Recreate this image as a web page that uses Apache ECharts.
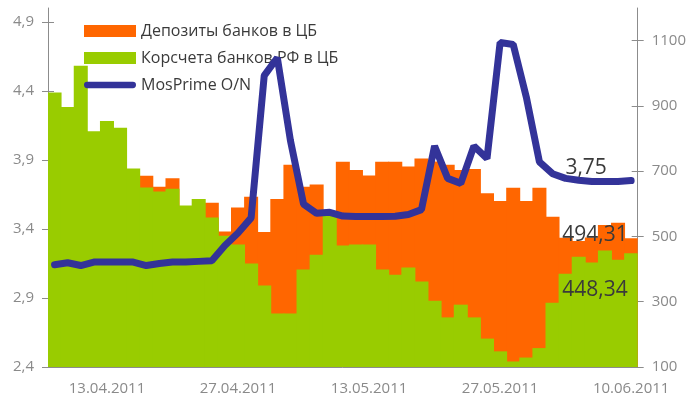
<!DOCTYPE html>
<html>
<head>
<meta charset="utf-8">
<script src="https://cdn.jsdelivr.net/npm/echarts@6/dist/echarts.min.js"></script>
<style>
  html, body { margin: 0; padding: 0; background: #fff; }
  #chart { width: 689px; height: 403px; }
</style>
</head>
<body>
<div id="chart"></div>
<script>
(function () {
    'use strict';

    var days = [
        '07.04.2011', '08.04.2011', '11.04.2011', '12.04.2011', '13.04.2011',
        '14.04.2011', '15.04.2011', '18.04.2011', '19.04.2011', '20.04.2011',
        '21.04.2011', '22.04.2011', '25.04.2011', '26.04.2011', '27.04.2011',
        '28.04.2011', '29.04.2011', '03.05.2011', '04.05.2011', '05.05.2011',
        '06.05.2011', '10.05.2011', '11.05.2011', '12.05.2011', '13.05.2011',
        '16.05.2011', '17.05.2011', '18.05.2011', '19.05.2011', '20.05.2011',
        '23.05.2011', '24.05.2011', '25.05.2011', '26.05.2011', '27.05.2011',
        '30.05.2011', '31.05.2011', '01.06.2011', '02.06.2011', '03.06.2011',
        '06.06.2011', '07.06.2011', '08.06.2011', '09.06.2011', '10.06.2011'
    ];

    // депозиты банков в ЦБ, млрд руб (правая шкала)
    var deposits = [
        600, 620, 640, 660, 650, 640, 680, 686, 652, 678,
        570, 590, 603, 515, 589, 622, 514, 615, 720, 652,
        659, 530, 729, 704, 687, 729, 729, 714, 739, 730,
        720, 704, 707, 632, 609, 649, 609, 649, 560, 496,
        486, 497, 535, 542, 494.31
    ];

    // корсчета банков РФ в ЦБ, млрд руб (правая шкала)
    var corrAccounts = [
        941, 897, 1023, 822, 854, 833, 708, 650, 638, 646,
        595, 615, 558, 502, 475, 417, 350, 264, 264, 399,
        444, 566, 472, 475, 475, 399, 383, 405, 362, 303,
        252, 291, 252, 187, 148, 117, 129, 158, 297, 386,
        438, 420, 457, 429, 448.34
    ];

    // MosPrime O/N, % (левая шкала)
    var mosprime = [
        3.14, 3.155, 3.135, 3.16, 3.16, 3.16, 3.16, 3.135, 3.15, 3.16,
        3.16, 3.165, 3.17, 3.28, 3.37, 3.48, 4.51, 4.64, 4.04, 3.58,
        3.513, 3.52, 3.493, 3.49, 3.49, 3.49, 3.492, 3.505, 3.54, 4.0,
        3.766, 3.73, 4.0, 3.91, 4.75, 4.736, 4.355, 3.886, 3.80, 3.766,
        3.753, 3.744, 3.743, 3.744, 3.75
    ];

    var leftTicks = [2.4, 2.9, 3.4, 3.9, 4.4, 4.9];
    var rightTicks = [100, 300, 500, 700, 900, 1100];

    var fontName = '"Open Sans", "Noto Sans", sans-serif';
    var axisGray = '#8c8c8c';
    var labelGray = '#8a8a8a';
    var darkText = '#3a3a3a';
    var orange = '#ff6600';
    var green = '#99cc00';
    var blue = '#333399';

    // толстая линия с круглыми концами для легенды
    var lineIcon = 'path://M3.5,0L54.5,0A3.5,3.5,0,0,1,54.5,7L3.5,7A3.5,3.5,0,0,1,3.5,0Z';

    function comma(v) {
        return String(v).replace('.', ',');
    }

    var last = days.length - 1;

    function withEndLabel(arr, offset) {
        return arr.map(function (v, i) {
            if (i !== last) return v;
            return {
                value: v,
                label: {
                    show: true,
                    position: 'top',
                    offset: offset,
                    formatter: comma(v),
                    color: darkText,
                    fontSize: 21,
                    fontFamily: fontName
                }
            };
        });
    }

    var chart = echarts.init(document.getElementById('chart'));

    var sideAxis = function (pos, min, max, ticks, withLabels) {
        return {
            type: 'value',
            position: pos,
            min: min,
            max: max,
            splitLine: { show: false },
            axisLine: { show: withLabels, lineStyle: { color: axisGray, width: 1 } },
            axisTick: {
                show: true,
                inside: !withLabels,
                length: 6,
                customValues: ticks,
                lineStyle: { color: axisGray }
            },
            axisLabel: {
                show: withLabels,
                customValues: ticks,
                margin: 14,
                color: labelGray,
                fontSize: 15,
                fontFamily: fontName,
                formatter: function (v) { return comma(v); }
            }
        };
    };

    chart.setOption({
        animation: false,
        backgroundColor: '#fff',
        grid: { left: 48, right: 50, top: 8, bottom: 36 },
        legend: {
            orient: 'vertical',
            left: 79,
            top: 18,
            itemWidth: 52,
            itemHeight: 12,
            itemGap: 11,
            textStyle: { color: darkText, fontSize: 16, fontFamily: fontName },
            data: [
                { name: 'Депозиты банков в ЦБ', icon: 'rect' },
                { name: 'Корсчета банков РФ в ЦБ', icon: 'rect' },
                { name: 'MosPrime O/N', icon: lineIcon }
            ]
        },
        xAxis: {
            type: 'category',
            data: days,
            boundaryGap: true,
            splitLine: { show: false },
            axisLine: { lineStyle: { color: axisGray } },
            axisTick: {
                length: 5,
                interval: function (i) { return i % 5 === 0; },
                lineStyle: { color: axisGray }
            },
            axisLabel: {
                interval: function (i) { return i % 10 === 4; },
                margin: 14,
                color: labelGray,
                fontSize: 15,
                fontFamily: fontName
            }
        },
        yAxis: [
            sideAxis('left', 2.4, 5.0, leftTicks, true),
            sideAxis('right', 100, 1200, rightTicks, true),
            sideAxis('left', 2.4, 5.0, leftTicks, false),
            sideAxis('right', 100, 1200, rightTicks, false)
        ],
        series: [
            {
                name: 'Депозиты банков в ЦБ',
                type: 'bar',
                yAxisIndex: 1,
                barGap: '-100%',
                barWidth: '107%',
                itemStyle: { color: orange },
                data: withEndLabel(deposits, [-36, 12])
            },
            {
                name: 'Корсчета банков РФ в ЦБ',
                type: 'bar',
                yAxisIndex: 1,
                barGap: '-100%',
                barWidth: '107%',
                itemStyle: { color: green },
                data: withEndLabel(corrAccounts, [-36, 52])
            },
            {
                name: 'MosPrime O/N',
                type: 'line',
                yAxisIndex: 0,
                z: 5,
                symbol: 'none',
                lineStyle: { color: blue, width: 7, cap: 'round' },
                itemStyle: { color: blue },
                data: mosprime,
                markPoint: {
                    symbol: 'circle',
                    symbolSize: 1,
                    itemStyle: { color: 'rgba(0,0,0,0)' },
                    label: {
                        show: true,
                        position: 'top',
                        offset: [-45, 3],
                        color: darkText,
                        fontSize: 21,
                        fontFamily: fontName,
                        formatter: comma(mosprime[last])
                    },
                    data: [{ coord: [last, mosprime[last]] }]
                }
            }
        ]
    });
})();
</script>
</body>
</html>
